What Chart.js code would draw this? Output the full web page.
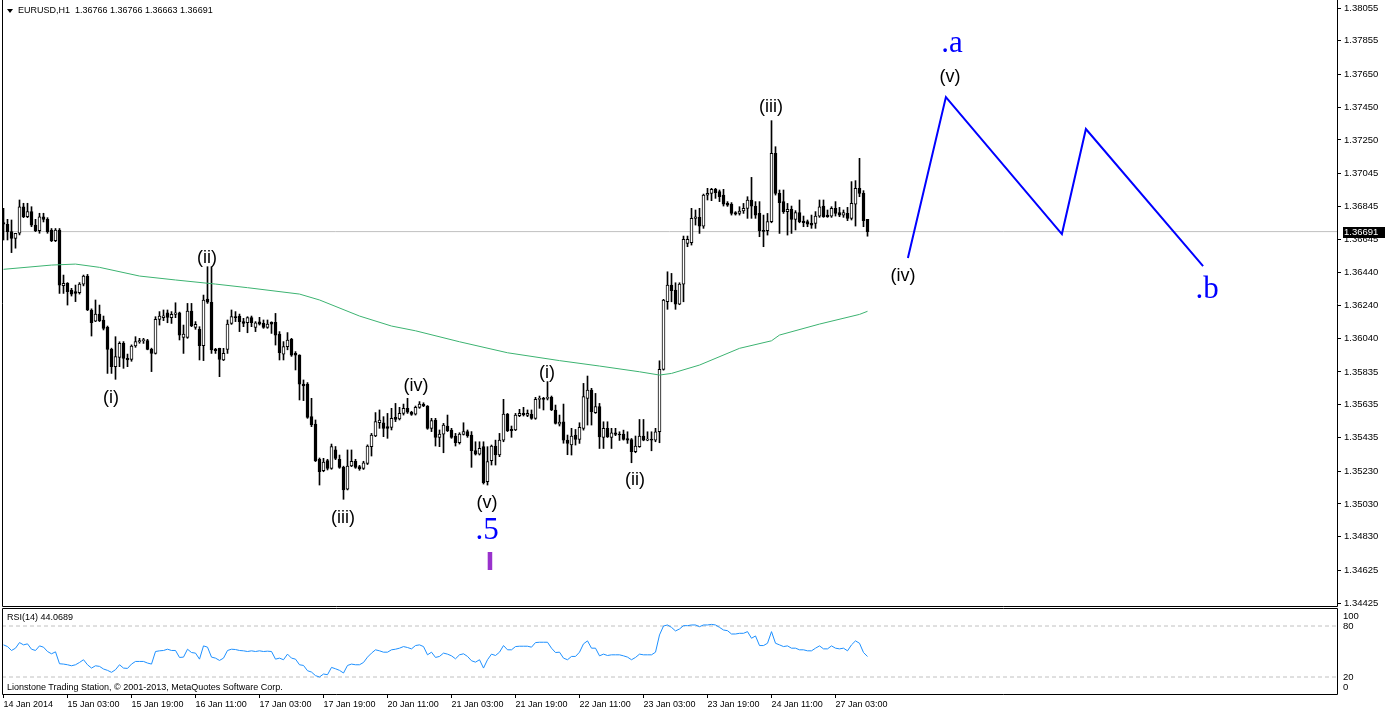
<!DOCTYPE html>
<html>
<head>
<meta charset="utf-8">
<title>EURUSD H1</title>
<script src="https://cdn.jsdelivr.net/npm/chart.js@4.4.1/dist/chart.umd.min.js"></script>
<style>
  body { margin: 0; background: #fff; }
  #wrap { position: relative; width: 1385px; height: 712px; overflow: hidden; font-family: "Liberation Sans", Arial, sans-serif; }
  #priceChart { position: absolute; left: 0; top: 0; }
  #rsiChart { position: absolute; left: 0; top: 607px; }
  .txt { position: absolute; font-size: 9px; line-height: 11px; color: #000; white-space: pre; }
  .tri { position: absolute; left: 7px; top: 9px; width: 0; height: 0; border-left: 3px solid transparent; border-right: 3px solid transparent; border-top: 4px solid #000; }
</style>
</head>
<body>
<div id="wrap">
  <canvas id="priceChart" width="1385" height="607"></canvas>
  <canvas id="rsiChart" width="1385" height="105"></canvas>
  <div class="tri"></div>
  <div class="txt" style="left:18px;top:5px">EURUSD,H1  1.36766 1.36766 1.36663 1.36691</div>
  <div class="txt" style="left:7px;top:612px">RSI(14) 44.0689</div>
  <div class="txt" style="left:7px;top:682px">Lionstone Trading Station, © 2001-2013, MetaQuotes Software Corp.</div>
</div>
<script>
// hourly bars, 14 Jan 2014 11:00 .. 27 Jan 2014 11:00
const openP = [
  1.36746, 1.36736, 1.36691, 1.36650, 1.36681, 1.36843, 1.36782, 1.36813, 1.36731, 1.36697,
  1.36782, 1.36766, 1.36701, 1.36636, 1.36701, 1.36361, 1.36375, 1.36335, 1.36325, 1.36319,
  1.36371, 1.36420, 1.36213, 1.36145, 1.36188, 1.36152, 1.36107, 1.35973, 1.35867, 1.35924,
  1.36009, 1.35918, 1.35912, 1.35993, 1.36018, 1.36026, 1.36026, 1.35973, 1.35948, 1.36156,
  1.36166, 1.36196, 1.36166, 1.36186, 1.36196, 1.36046, 1.36046, 1.36207, 1.36107, 1.36095,
  1.35995, 1.36280, 1.36260, 1.35973, 1.35979, 1.35908, 1.35973, 1.36131, 1.36172, 1.36176,
  1.36142, 1.36135, 1.36166, 1.36107, 1.36140, 1.36131, 1.36107, 1.36137, 1.36137, 1.36066,
  1.35944, 1.35989, 1.36034, 1.35949, 1.35938, 1.35761, 1.35761, 1.35562, 1.35517, 1.35302,
  1.35233, 1.35294, 1.35247, 1.35360, 1.35302, 1.35253, 1.35119, 1.35261, 1.35290, 1.35257,
  1.35247, 1.35277, 1.35379, 1.35444, 1.35525, 1.35525, 1.35501, 1.35497, 1.35558, 1.35548,
  1.35582, 1.35613, 1.35589, 1.35578, 1.35619, 1.35637, 1.35627, 1.35491, 1.35542, 1.35436,
  1.35456, 1.35505, 1.35481, 1.35444, 1.35403, 1.35454, 1.35471, 1.35450, 1.35355, 1.35334,
  1.35379, 1.35165, 1.35294, 1.35383, 1.35328, 1.35419, 1.35578, 1.35485, 1.35481, 1.35568,
  1.35582, 1.35570, 1.35576, 1.35552, 1.35668, 1.35674, 1.35674, 1.35680, 1.35603, 1.35517,
  1.35531, 1.35419, 1.35389, 1.35450, 1.35423, 1.35491, 1.35673, 1.35724, 1.35586, 1.35623,
  1.35435, 1.35491, 1.35435, 1.35464, 1.35456, 1.35456, 1.35429, 1.35423, 1.35348, 1.35379,
  1.35444, 1.35419, 1.35423, 1.35419, 1.35470, 1.35851, 1.36263, 1.36365, 1.36335, 1.36249,
  1.36371, 1.36619, 1.36623, 1.36772, 1.36778, 1.36725, 1.36914, 1.36924, 1.36949, 1.36935,
  1.36914, 1.36863, 1.36859, 1.36807, 1.36802, 1.36817, 1.36833, 1.36884, 1.36847, 1.36802,
  1.36697, 1.36697, 1.36752, 1.37169, 1.36924, 1.36874, 1.36813, 1.36827, 1.36766, 1.36807,
  1.36756, 1.36752, 1.36741, 1.36741, 1.36786, 1.36847, 1.36792, 1.36786, 1.36833, 1.36807,
  1.36792, 1.36802, 1.36772, 1.36859, 1.36955, 1.36924, 1.36766
];
const highP = [
  1.36833, 1.36766, 1.36762, 1.36681, 1.36884, 1.36864, 1.36864, 1.36843, 1.36766, 1.36803,
  1.36803, 1.36776, 1.36710, 1.36710, 1.36710, 1.36426, 1.36380, 1.36345, 1.36365, 1.36380,
  1.36426, 1.36430, 1.36220, 1.36274, 1.36243, 1.36176, 1.36115, 1.35980, 1.36050, 1.36019,
  1.36020, 1.35944, 1.36000, 1.36050, 1.36040, 1.36040, 1.36034, 1.35980, 1.36172, 1.36203,
  1.36213, 1.36213, 1.36203, 1.36257, 1.36200, 1.36121, 1.36253, 1.36253, 1.36142, 1.36111,
  1.36304, 1.36477, 1.36477, 1.35979, 1.35980, 1.35979, 1.36152, 1.36213, 1.36203, 1.36188,
  1.36162, 1.36172, 1.36176, 1.36142, 1.36168, 1.36152, 1.36152, 1.36141, 1.36192, 1.36081,
  1.36020, 1.36075, 1.36040, 1.35959, 1.35940, 1.35786, 1.35770, 1.35674, 1.35542, 1.35310,
  1.35308, 1.35302, 1.35395, 1.35380, 1.35328, 1.35260, 1.35359, 1.35359, 1.35302, 1.35265,
  1.35290, 1.35390, 1.35460, 1.35587, 1.35603, 1.35562, 1.35582, 1.35613, 1.35643, 1.35619,
  1.35639, 1.35674, 1.35595, 1.35627, 1.35654, 1.35647, 1.35630, 1.35552, 1.35552, 1.35481,
  1.35521, 1.35572, 1.35491, 1.35460, 1.35464, 1.35525, 1.35481, 1.35471, 1.35409, 1.35409,
  1.35409, 1.35379, 1.35389, 1.35419, 1.35460, 1.35668, 1.35582, 1.35505, 1.35582, 1.35607,
  1.35619, 1.35603, 1.35603, 1.35680, 1.35688, 1.35680, 1.35776, 1.35688, 1.35633, 1.35572,
  1.35639, 1.35450, 1.35491, 1.35484, 1.35525, 1.35765, 1.35810, 1.35735, 1.35704, 1.35643,
  1.35531, 1.35531, 1.35491, 1.35491, 1.35470, 1.35480, 1.35470, 1.35429, 1.35444, 1.35545,
  1.35545, 1.35470, 1.35470, 1.35491, 1.35903, 1.36278, 1.36446, 1.36436, 1.36379, 1.36379,
  1.36664, 1.36664, 1.36833, 1.36823, 1.36833, 1.36920, 1.36955, 1.36955, 1.36955, 1.36945,
  1.36949, 1.36874, 1.36868, 1.36813, 1.36843, 1.36863, 1.36904, 1.37022, 1.36874, 1.36874,
  1.36792, 1.36802, 1.37368, 1.37209, 1.36945, 1.36945, 1.36863, 1.36847, 1.36819, 1.36884,
  1.36786, 1.36762, 1.36792, 1.36813, 1.36884, 1.36884, 1.36823, 1.36843, 1.36874, 1.36839,
  1.36823, 1.36839, 1.36996, 1.37002, 1.37138, 1.36941, 1.36766
];
const lowP = [
  1.36640, 1.36640, 1.36563, 1.36590, 1.36671, 1.36776, 1.36776, 1.36721, 1.36691, 1.36681,
  1.36750, 1.36681, 1.36630, 1.36630, 1.36314, 1.36314, 1.36243, 1.36298, 1.36264, 1.36310,
  1.36360, 1.36209, 1.36054, 1.36142, 1.36142, 1.36091, 1.35826, 1.35826, 1.35790, 1.35867,
  1.35857, 1.35867, 1.35900, 1.35985, 1.36010, 1.36009, 1.35970, 1.35837, 1.35944, 1.36121,
  1.36148, 1.36135, 1.36131, 1.36166, 1.36030, 1.35948, 1.36040, 1.36111, 1.36095, 1.35908,
  1.35904, 1.36253, 1.35948, 1.35948, 1.35806, 1.35904, 1.35948, 1.36125, 1.36142, 1.36081,
  1.36111, 1.36074, 1.36111, 1.36081, 1.36121, 1.36101, 1.36101, 1.36070, 1.35999, 1.35908,
  1.35908, 1.35970, 1.35930, 1.35847, 1.35664, 1.35660, 1.35552, 1.35501, 1.35288, 1.35145,
  1.35226, 1.35237, 1.35241, 1.35300, 1.35247, 1.35058, 1.35115, 1.35257, 1.35247, 1.35235,
  1.35240, 1.35270, 1.35322, 1.35440, 1.35491, 1.35440, 1.35430, 1.35481, 1.35532, 1.35542,
  1.35572, 1.35582, 1.35570, 1.35572, 1.35613, 1.35623, 1.35485, 1.35471, 1.35383, 1.35379,
  1.35342, 1.35471, 1.35430, 1.35383, 1.35395, 1.35450, 1.35436, 1.35253, 1.35328, 1.35328,
  1.35151, 1.35145, 1.35267, 1.35267, 1.35318, 1.35409, 1.35471, 1.35436, 1.35477, 1.35562,
  1.35566, 1.35562, 1.35546, 1.35546, 1.35613, 1.35603, 1.35664, 1.35599, 1.35517, 1.35505,
  1.35400, 1.35330, 1.35328, 1.35389, 1.35399, 1.35480, 1.35511, 1.35511, 1.35582, 1.35368,
  1.35368, 1.35435, 1.35368, 1.35446, 1.35417, 1.35419, 1.35399, 1.35281, 1.35342, 1.35375,
  1.35415, 1.35415, 1.35354, 1.35409, 1.35403, 1.35846, 1.36217, 1.36263, 1.36217, 1.36245,
  1.36263, 1.36599, 1.36609, 1.36731, 1.36680, 1.36711, 1.36884, 1.36880, 1.36894, 1.36874,
  1.36847, 1.36845, 1.36792, 1.36792, 1.36792, 1.36802, 1.36772, 1.36772, 1.36772, 1.36660,
  1.36599, 1.36670, 1.36745, 1.36914, 1.36680, 1.36802, 1.36670, 1.36680, 1.36701, 1.36745,
  1.36721, 1.36721, 1.36711, 1.36711, 1.36778, 1.36778, 1.36778, 1.36778, 1.36786, 1.36782,
  1.36778, 1.36758, 1.36762, 1.36725, 1.36904, 1.36721, 1.36663
];
const closeP = [
  1.36736, 1.36691, 1.36650, 1.36681, 1.36843, 1.36782, 1.36813, 1.36731, 1.36697, 1.36782,
  1.36766, 1.36691, 1.36636, 1.36701, 1.36365, 1.36375, 1.36325, 1.36310, 1.36314, 1.36371,
  1.36420, 1.36213, 1.36135, 1.36188, 1.36148, 1.36101, 1.35973, 1.35867, 1.35928, 1.36009,
  1.35918, 1.35908, 1.35993, 1.36020, 1.36026, 1.36030, 1.35973, 1.35948, 1.36156, 1.36176,
  1.36178, 1.36168, 1.36186, 1.36196, 1.36060, 1.36066, 1.36207, 1.36115, 1.36125, 1.35995,
  1.36274, 1.36260, 1.35969, 1.35965, 1.35912, 1.35948, 1.36127, 1.36172, 1.36166, 1.36142,
  1.36131, 1.36166, 1.36135, 1.36135, 1.36127, 1.36107, 1.36127, 1.36127, 1.36060, 1.35952,
  1.35989, 1.36030, 1.35938, 1.35938, 1.35761, 1.35750, 1.35558, 1.35511, 1.35294, 1.35226,
  1.35285, 1.35247, 1.35379, 1.35308, 1.35253, 1.35115, 1.35261, 1.35290, 1.35253, 1.35245,
  1.35281, 1.35383, 1.35450, 1.35532, 1.35542, 1.35491, 1.35491, 1.35552, 1.35546, 1.35582,
  1.35613, 1.35589, 1.35576, 1.35619, 1.35639, 1.35627, 1.35491, 1.35538, 1.35436, 1.35456,
  1.35511, 1.35477, 1.35436, 1.35403, 1.35456, 1.35471, 1.35444, 1.35355, 1.35334, 1.35369,
  1.35159, 1.35288, 1.35383, 1.35328, 1.35419, 1.35578, 1.35477, 1.35477, 1.35572, 1.35582,
  1.35572, 1.35582, 1.35552, 1.35668, 1.35674, 1.35668, 1.35680, 1.35603, 1.35521, 1.35529,
  1.35419, 1.35399, 1.35444, 1.35423, 1.35497, 1.35684, 1.35724, 1.35592, 1.35623, 1.35439,
  1.35491, 1.35439, 1.35464, 1.35454, 1.35450, 1.35423, 1.35419, 1.35348, 1.35383, 1.35444,
  1.35419, 1.35423, 1.35419, 1.35470, 1.35851, 1.36274, 1.36365, 1.36331, 1.36249, 1.36371,
  1.36644, 1.36644, 1.36772, 1.36782, 1.36725, 1.36914, 1.36924, 1.36949, 1.36929, 1.36904,
  1.36859, 1.36853, 1.36802, 1.36798, 1.36817, 1.36833, 1.36884, 1.36847, 1.36792, 1.36697,
  1.36693, 1.36752, 1.37169, 1.36924, 1.36868, 1.36813, 1.36827, 1.36766, 1.36807, 1.36752,
  1.36745, 1.36737, 1.36731, 1.36786, 1.36843, 1.36782, 1.36782, 1.36833, 1.36802, 1.36792,
  1.36807, 1.36772, 1.36863, 1.36955, 1.36924, 1.36758, 1.36691
];

// moving average, read at a few bars
const maIdx = [0, 12, 18, 24, 34, 43, 53, 61, 74, 79, 89, 97, 103, 114, 126, 139, 149, 159, 164, 167, 174, 184, 192, 194, 204, 214, 216];
const maVal = [1.36461, 1.36487, 1.36493, 1.36473, 1.36420, 1.36396, 1.36371, 1.36349, 1.36310, 1.36274,
               1.36176, 1.36115, 1.36086, 1.36019, 1.35952, 1.35904, 1.35871, 1.35836, 1.35816, 1.35826,
               1.35877, 1.35979, 1.36025, 1.36060, 1.36127, 1.36186, 1.36205];

// projected path drawn by hand on the chart (bar position, price)
const projIdx = [226.1, 235.6, 264.6, 270.6, 299.9];
const projVal = [1.36530, 1.37512, 1.36676, 1.37317, 1.36481];

const lastPrice = 1.36691;

const rsiVal = [
  57.8, 55.8, 51.2, 53.9, 60.5, 57.8, 59.0, 52.7, 51.2, 56.6,
  55.1, 50.0, 47.3, 49.6, 35.6, 35.2, 34.4, 33.2, 34.4, 37.1,
  40.3, 34.4, 30.5, 33.2, 32.5, 29.4, 27.8, 25.5, 28.6, 34.4,
  30.5, 30.1, 35.2, 38.3, 38.3, 38.3, 36.4, 35.2, 50.0, 50.8,
  51.2, 52.7, 51.2, 51.2, 43.0, 43.4, 52.7, 48.8, 48.1, 41.0,
  56.6, 55.1, 43.4, 42.2, 39.5, 42.2, 51.2, 52.7, 52.3, 51.2,
  50.8, 50.0, 50.8, 50.0, 50.8, 50.0, 50.4, 50.0, 41.0, 42.2,
  40.3, 46.9, 42.2, 41.0, 34.4, 33.6, 27.4, 25.8, 21.6, 20.0,
  23.5, 22.7, 31.3, 29.7, 27.8, 24.7, 33.6, 35.2, 34.4, 34.4,
  37.1, 43.4, 48.1, 52.0, 50.8, 49.2, 49.2, 52.0, 52.7, 53.9,
  55.8, 54.7, 53.1, 57.0, 57.8, 55.8, 46.1, 49.2, 43.0, 44.2,
  48.1, 46.9, 44.9, 41.4, 46.1, 47.3, 44.2, 39.1, 37.5, 40.3,
  30.5, 40.3, 46.9, 45.3, 49.2, 57.0, 52.0, 52.0, 55.8, 56.2,
  56.2, 56.2, 55.1, 60.5, 60.9, 60.9, 60.9, 53.9, 48.8, 49.2,
  42.2, 40.3, 44.2, 44.2, 49.2, 59.0, 62.5, 53.9, 53.9, 44.9,
  46.9, 45.3, 46.1, 46.1, 46.1, 44.9, 43.4, 40.3, 43.0, 46.9,
  46.1, 46.1, 46.1, 49.2, 69.5, 80.0, 81.2, 78.4, 74.2, 76.5,
  80.4, 80.4, 81.2, 81.2, 79.2, 81.2, 81.2, 81.9, 81.2, 78.4,
  75.3, 74.5, 70.6, 70.6, 71.4, 71.4, 73.4, 65.6, 68.3, 57.0,
  57.0, 59.7, 73.4, 59.7, 57.8, 55.8, 56.6, 53.9, 53.9, 52.0,
  52.0, 50.8, 50.8, 53.9, 56.6, 53.1, 53.1, 56.6, 53.9, 53.1,
  53.9, 50.8, 57.8, 62.5, 59.7, 48.8, 44.1
];
const rsiLevels = [80, 20];

const priceTicks = [1.38055, 1.37855, 1.37650, 1.37450, 1.37250, 1.37045, 1.36845, 1.36645, 1.36440, 1.36240,
                    1.36040, 1.35835, 1.35635, 1.35435, 1.35230, 1.35030, 1.34830, 1.34625, 1.34425];
const timeTickIdx = [0, 16, 32, 48, 64, 80, 96, 112, 128, 144, 160, 176, 192, 208];
const timeLabels = ['14 Jan 2014', '15 Jan 03:00', '15 Jan 19:00', '16 Jan 11:00', '17 Jan 03:00', '17 Jan 19:00',
                    '20 Jan 11:00', '21 Jan 03:00', '21 Jan 19:00', '22 Jan 11:00', '23 Jan 03:00', '23 Jan 19:00',
                    '24 Jan 11:00', '27 Jan 03:00'];

// wave labels: text, bar position, price, kind
const waveLabels = [
  { text: '(i)',   at: 26.9,  price: 1.35676, kind: 'minor' },
  { text: '(ii)',  at: 50.9,  price: 1.36530, kind: 'minor' },
  { text: '(iii)', at: 84.9,  price: 1.34944, kind: 'minor' },
  { text: '(iv)',  at: 103.1, price: 1.35749, kind: 'minor' },
  { text: '(v)',   at: 120.9, price: 1.35035, kind: 'minor' },
  { text: '.5',    at: 120.9, price: 1.34864, kind: 'major' },
  { text: 'I',     at: 121.6, price: 1.34667, kind: 'mark' },
  { text: '(i)',   at: 135.9, price: 1.35828, kind: 'minor' },
  { text: '(ii)',  at: 157.9, price: 1.35176, kind: 'minor' },
  { text: '(iii)', at: 191.9, price: 1.37451, kind: 'minor' },
  { text: '(iv)',  at: 224.9, price: 1.36420, kind: 'minor' },
  { text: '(v)',   at: 236.6, price: 1.37634, kind: 'minor' },
  { text: '.a',    at: 237.1, price: 1.37836, kind: 'major' },
  { text: '.b',    at: 300.9, price: 1.36335, kind: 'major' }
];
const labelStyle = {
  minor: { font: '18px "Liberation Sans", Arial, sans-serif', color: '#000' },
  major: { font: '31px "Liberation Serif", "Times New Roman", serif', color: '#0000ff' },
  mark:  { font: 'bold 24px "DejaVu Sans", sans-serif', color: '#9932cc' }
};

// x range: bar i sits at pixel 3.5 + 4*i, chart area 2..1337
const X_MIN = -0.375;
const X_MAX = 333.375;

Chart.defaults.font.family = '"Liberation Sans", Arial, sans-serif';
Chart.defaults.color = '#000';
Chart.defaults.animation = false;

const framePlugin = {
  id: 'frame',
  afterDraw(chart, args, opts) {
    const { ctx, chartArea: a } = chart;
    ctx.save();
    ctx.strokeStyle = '#000';
    ctx.lineWidth = 1;
    ctx.beginPath();
    const l = a.left + 0.5, r = a.right + 0.5, b = a.bottom + 0.5;
    const t = opts.top ? a.top - 0.5 : 0;
    ctx.moveTo(l, t); ctx.lineTo(l, b); ctx.lineTo(r, b); ctx.lineTo(r, t);
    if (opts.top) ctx.lineTo(l, t);
    ctx.stroke();
    ctx.restore();
  }
};

const wavePlugin = {
  id: 'waves',
  afterDatasetsDraw(chart) {
    const { ctx, scales } = chart;
    ctx.save();
    ctx.textAlign = 'center';
    ctx.textBaseline = 'middle';
    waveLabels.forEach((w) => {
      const st = labelStyle[w.kind];
      ctx.font = st.font;
      ctx.fillStyle = st.color;
      ctx.fillText(w.text, scales.x.getPixelForValue(w.at), scales.y.getPixelForValue(w.price));
    });
    ctx.restore();
  }
};

const lastPricePlugin = {
  id: 'lastPrice',
  afterDraw(chart) {
    const { ctx, chartArea: a, scales } = chart;
    const y = Math.round(scales.y.getPixelForValue(lastPrice));
    ctx.save();
    ctx.fillStyle = '#000';
    ctx.fillRect(a.right + 6, y - 5, 48, 11);
    ctx.fillStyle = '#fff';
    ctx.font = '9.5px "Liberation Sans", Arial, sans-serif';
    ctx.textBaseline = 'middle';
    ctx.fillText(lastPrice.toFixed(5), a.right + 7, y + 0.5);
    ctx.restore();
  }
};

const idx = openP.map((_, i) => i);

new Chart(document.getElementById('priceChart').getContext('2d'), {
  type: 'bar',
  data: {
    datasets: [
      {
        label: 'body',
        data: idx.map((i) => ({ x: i, y: [openP[i], closeP[i]] })),
        backgroundColor: idx.map((i) => (closeP[i] >= openP[i] ? '#fff' : '#000')),
        borderColor: '#000',
        borderWidth: 1,
        borderSkipped: false,
        barThickness: 3,
        minBarLength: 1,
        grouped: false,
        order: 2
      },
      {
        label: 'wick',
        data: idx.map((i) => ({ x: i, y: [lowP[i], highP[i]] })),
        backgroundColor: '#000',
        borderWidth: 0,
        barThickness: 1,
        grouped: false,
        order: 3
      },
      {
        type: 'line',
        label: 'bid',
        data: [{ x: X_MIN, y: lastPrice }, { x: X_MAX, y: lastPrice }],
        borderColor: '#c0c0c0',
        borderWidth: 1,
        pointRadius: 0,
        order: 4
      },
      {
        type: 'line',
        label: 'MA',
        data: maIdx.map((i, k) => ({ x: i, y: maVal[k] })),
        borderColor: '#3cb371',
        borderWidth: 1,
        pointRadius: 0,
        tension: 0,
        order: 1
      },
      {
        type: 'line',
        label: 'projection',
        data: projIdx.map((i, k) => ({ x: i, y: projVal[k] })),
        borderColor: '#0000ff',
        borderWidth: 2,
        pointRadius: 0,
        tension: 0,
        order: 0
      }
    ]
  },
  options: {
    responsive: false,
    layout: { padding: { left: 2, right: 0, top: 1, bottom: 1 } },
    plugins: { legend: { display: false }, tooltip: { enabled: false }, frame: { top: false } },
    scales: {
      x: { type: 'linear', display: false, min: X_MIN, max: X_MAX, offset: false },
      y: {
        position: 'right',
        min: 1.34407,
        max: 1.38098,
        afterBuildTicks: (scale) => { scale.ticks = priceTicks.map((v) => ({ value: v })); },
        afterFit: (scale) => { scale.width = 48; scale.paddingTop = 0; scale.paddingBottom = 0; },
        ticks: { autoSkip: false, padding: 3, font: { size: 9.5 }, callback: (v) => Number(v).toFixed(5) },
        grid: { drawOnChartArea: false, drawTicks: true, tickLength: 4, color: '#000' },
        border: { display: false }
      }
    }
  },
  plugins: [framePlugin, wavePlugin, lastPricePlugin]
});

// RSI panel; MT4 pulls the 100 and 0 labels inside the window, so they sit at 92 and 8
const rsiAxisVals = [8, 20, 80, 91];
const rsiAxisText = ['0', '20', '80', '100'];

new Chart(document.getElementById('rsiChart').getContext('2d'), {
  type: 'line',
  data: {
    datasets: [
      {
        label: 'RSI(14)',
        data: rsiVal.map((v, i) => ({ x: i, y: v })),
        borderColor: '#1e90ff',
        borderWidth: 1,
        pointRadius: 0,
        tension: 0
      },
      ...rsiLevels.map((lv) => ({
        label: 'level ' + lv,
        data: [{ x: X_MIN, y: lv }, { x: X_MAX, y: lv }],
        borderColor: '#c0c0c0',
        borderWidth: 1,
        borderDash: [4, 3],
        pointRadius: 0
      }))
    ]
  },
  options: {
    responsive: false,
    layout: { padding: { left: 2, right: 0, top: 2, bottom: 0 } },
    plugins: { legend: { display: false }, tooltip: { enabled: false }, frame: { top: true } },
    scales: {
      x: {
        type: 'linear',
        min: X_MIN,
        max: X_MAX,
        offset: false,
        afterBuildTicks: (scale) => { scale.ticks = timeTickIdx.map((v) => ({ value: v })); },
        afterFit: (scale) => { scale.height = 18; scale.paddingLeft = 0; scale.paddingRight = 0; },
        ticks: {
          autoSkip: false, maxRotation: 0, align: 'start', padding: 1, font: { size: 9 },
          callback: (v, i) => timeLabels[i]
        },
        grid: { drawOnChartArea: false, drawTicks: true, tickLength: 4, color: '#000' },
        border: { display: false }
      },
      y: {
        position: 'right',
        min: 0,
        max: 100,
        afterBuildTicks: (scale) => { scale.ticks = rsiAxisVals.map((v) => ({ value: v })); },
        afterFit: (scale) => { scale.width = 48; scale.paddingTop = 0; scale.paddingBottom = 0; },
        ticks: { autoSkip: false, padding: 6, font: { size: 9.5 }, callback: (v, i) => rsiAxisText[i] },
        grid: { drawOnChartArea: false, drawTicks: false },
        border: { display: false }
      }
    }
  },
  plugins: [framePlugin]
});
</script>
</body>
</html>
